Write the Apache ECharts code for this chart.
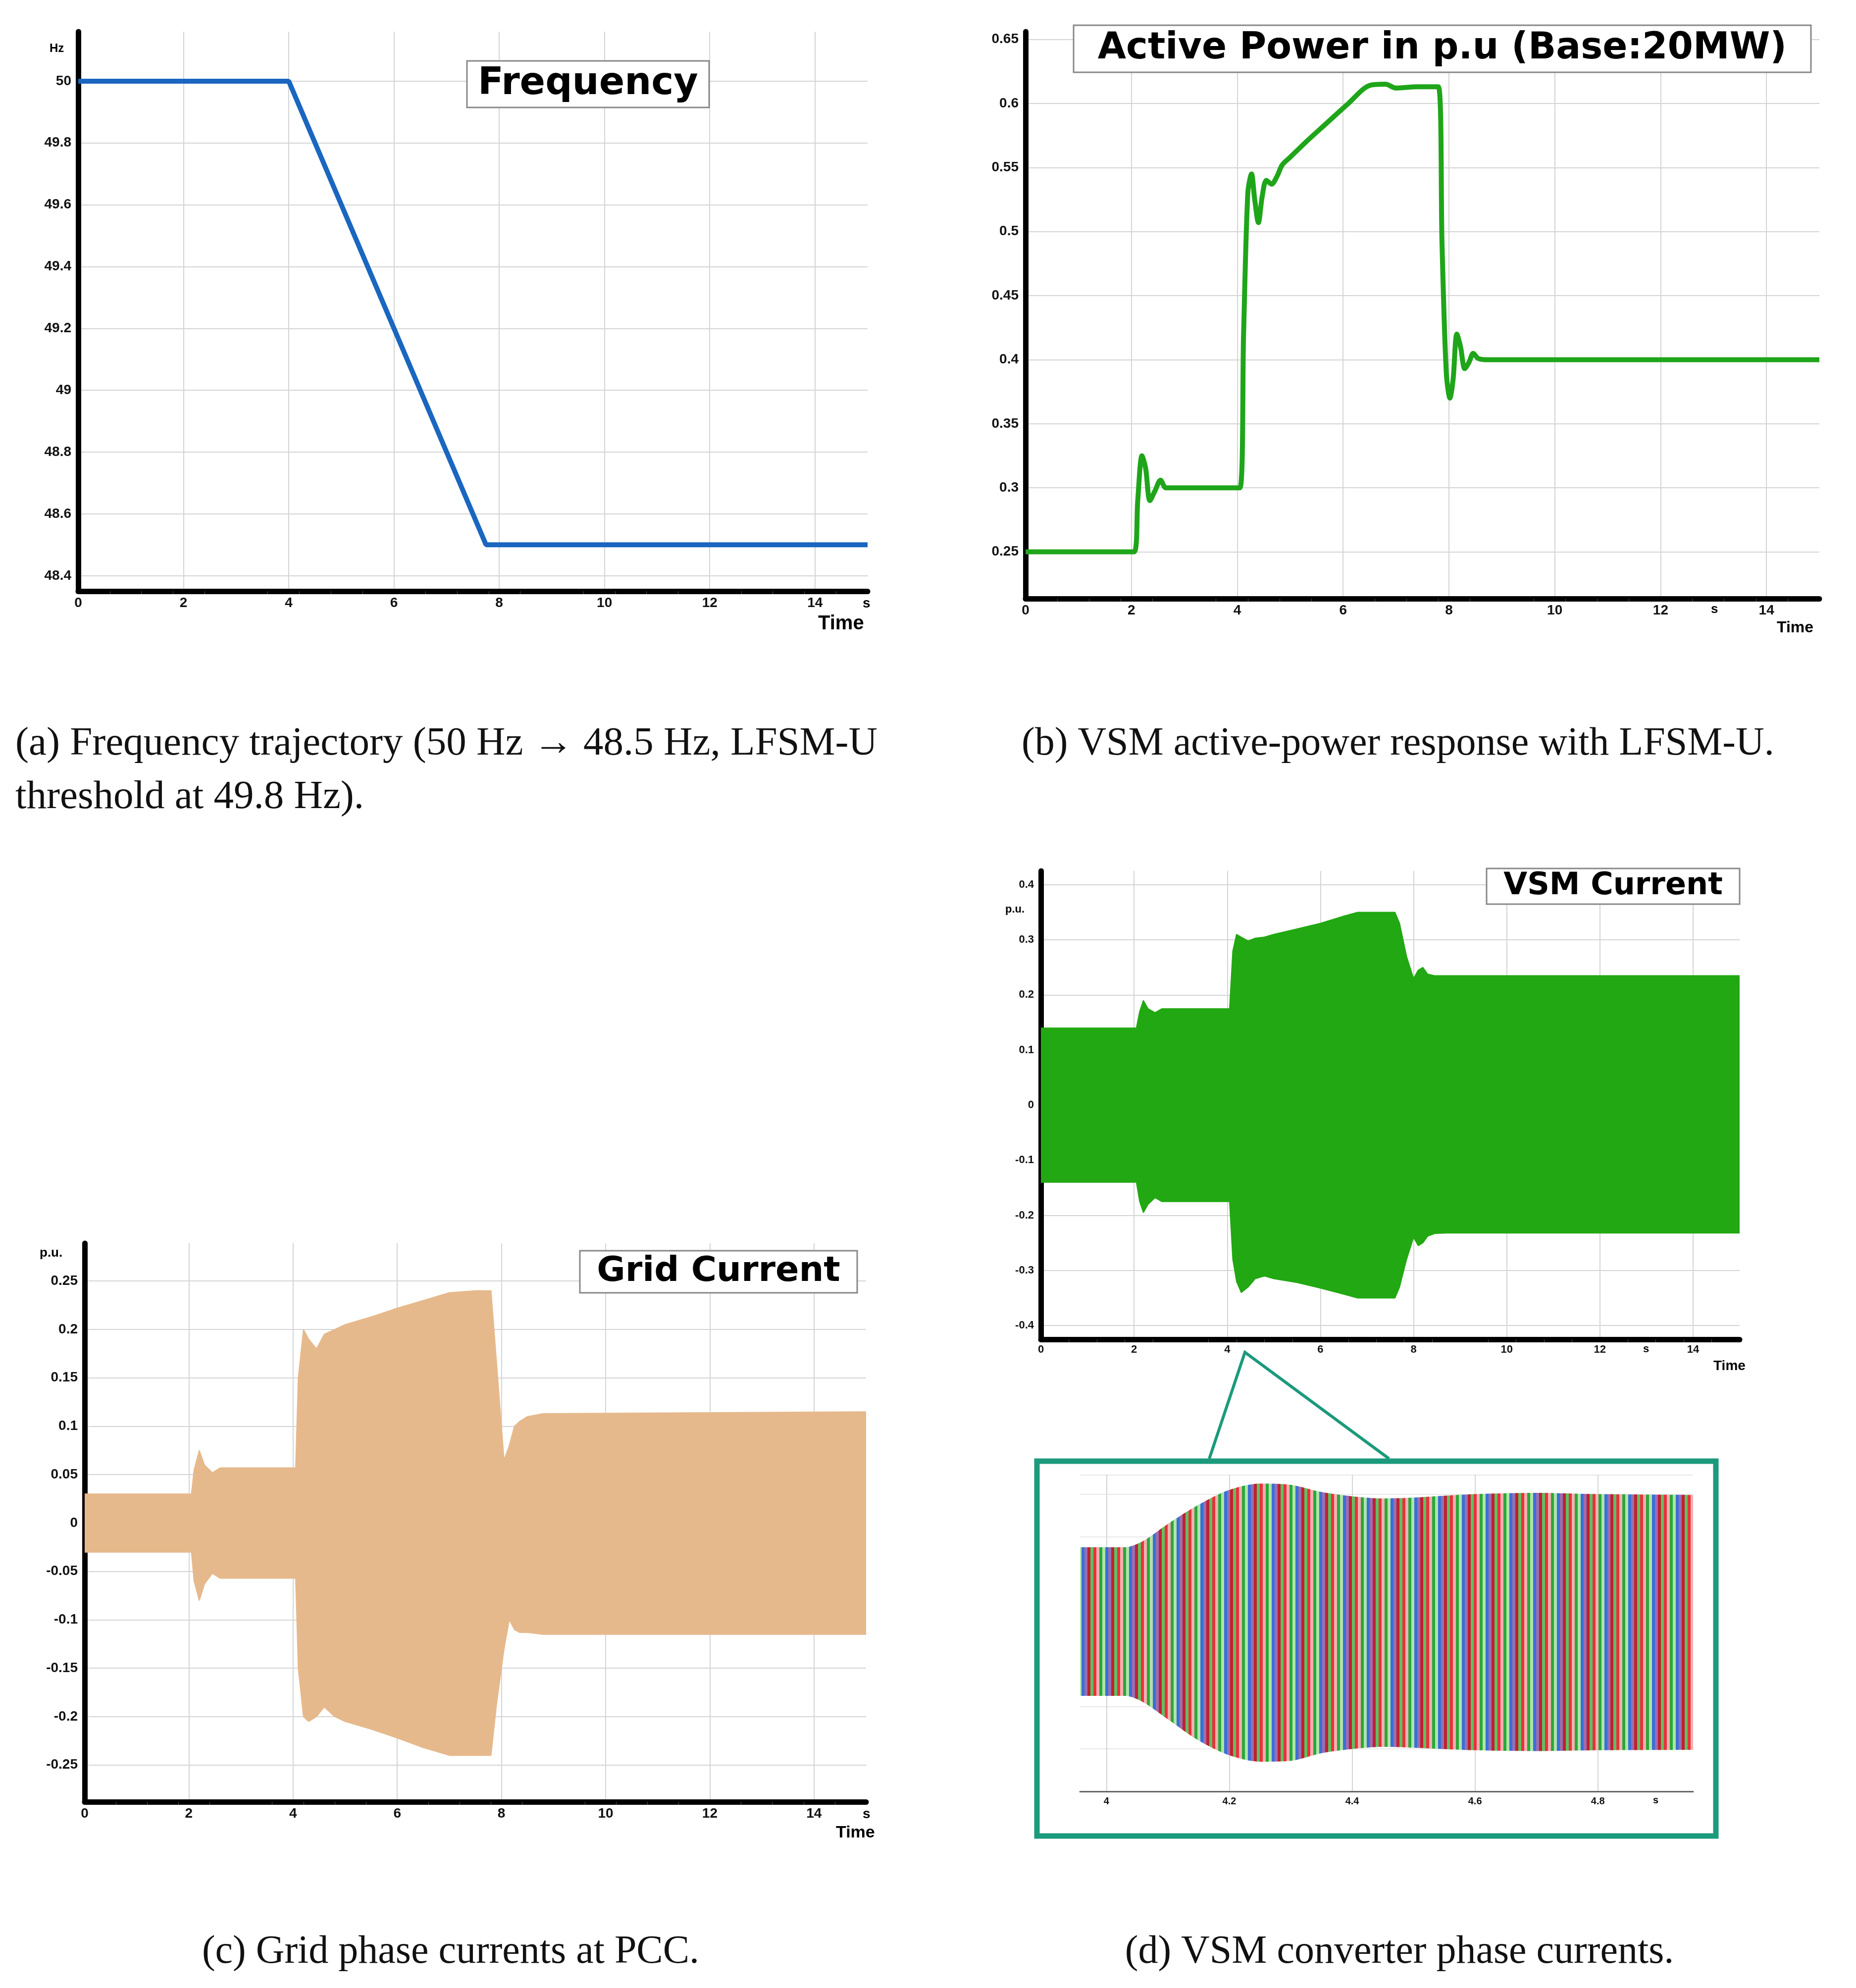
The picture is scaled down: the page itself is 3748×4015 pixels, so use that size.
<!DOCTYPE html>
<html><head><meta charset="utf-8">
<script src="https://cdn.jsdelivr.net/npm/echarts@6/dist/echarts.min.js"></script>
<style>html,body{margin:0;padding:0;background:#fff}#c{width:3748px;height:4015px}</style>
</head><body><div id="c"></div>
<script>
// ---- data ----
const freqT = [0, 4, 7.75, 15];
const freqV = [50, 50, 48.5, 48.5];
const freqTicks = [48.4, 48.6, 48.8, 49, 49.2, 49.4, 49.6, 49.8, 50];

const powT = [0,2.05,2.12,2.2,2.27,2.35,2.45,2.55,2.65,2.8,3.0,4.05,4.12,4.2,4.27,4.33,4.4,4.47,4.55,4.65,4.75,4.85,5.0,5.3,5.7,6.1,6.5,6.8,7.0,7.4,7.8,7.87,7.95,8.02,8.08,8.15,8.22,8.3,8.38,8.46,8.55,8.7,8.9,9.2,15];
const powV = [0.25,0.25,0.29,0.325,0.315,0.29,0.298,0.306,0.3,0.3,0.3,0.3,0.42,0.53,0.545,0.525,0.507,0.527,0.54,0.537,0.543,0.552,0.558,0.57,0.585,0.6,0.614,0.615,0.612,0.613,0.613,0.49,0.39,0.37,0.385,0.42,0.41,0.393,0.398,0.405,0.401,0.4,0.4,0.4,0.4];
const powTicks = [0.25,0.3,0.35,0.4,0.45,0.5,0.55,0.6,0.65];

const gridT = [0,2.05,2.1,2.2,2.3,2.45,2.6,2.8,4.05,4.1,4.2,4.3,4.45,4.6,4.8,5.0,5.5,6.0,6.5,7.0,7.5,7.8,7.9,8.05,8.15,8.25,8.35,8.5,8.8,15];
const gridUp = [0.03,0.03,0.055,0.075,0.06,0.052,0.057,0.057,0.057,0.15,0.2,0.19,0.18,0.195,0.2,0.205,0.213,0.222,0.23,0.238,0.24,0.24,0.17,0.065,0.08,0.1,0.105,0.11,0.113,0.115];
const gridLo = [-0.03,-0.03,-0.06,-0.08,-0.063,-0.052,-0.057,-0.057,-0.057,-0.15,-0.2,-0.205,-0.2,-0.19,-0.2,-0.205,-0.213,-0.222,-0.232,-0.24,-0.24,-0.24,-0.19,-0.13,-0.1,-0.11,-0.113,-0.113,-0.115,-0.115];
const gridTicks = [-0.25,-0.2,-0.15,-0.1,-0.05,0,0.05,0.1,0.15,0.2,0.25];

const vsmT = [0,2.05,2.12,2.2,2.3,2.45,2.6,2.8,4.05,4.12,4.2,4.3,4.45,4.6,4.8,5.0,5.5,6.0,6.5,6.8,7.3,7.6,7.7,7.85,8.0,8.1,8.2,8.3,8.45,8.7,15];
const vsmUp = [0.14,0.14,0.17,0.19,0.175,0.168,0.175,0.175,0.175,0.28,0.31,0.305,0.298,0.303,0.305,0.31,0.32,0.33,0.343,0.35,0.35,0.35,0.33,0.27,0.23,0.245,0.25,0.238,0.235,0.235,0.235];
const vsmLo = [-0.14,-0.14,-0.175,-0.195,-0.18,-0.168,-0.175,-0.175,-0.175,-0.28,-0.32,-0.34,-0.33,-0.315,-0.31,-0.315,-0.322,-0.332,-0.343,-0.35,-0.35,-0.35,-0.33,-0.28,-0.24,-0.255,-0.25,-0.238,-0.233,-0.232,-0.232];
const vsmTicks = [-0.4,-0.3,-0.2,-0.1,0,0.1,0.2,0.3,0.4];

const insT = [3.957,4.03,4.06,4.1,4.15,4.2,4.25,4.3,4.35,4.4,4.45,4.5,4.6,4.7,4.8,4.955];
const insUp = [0.175,0.175,0.19,0.23,0.275,0.31,0.325,0.322,0.305,0.295,0.29,0.292,0.3,0.303,0.3,0.298];
const insLo = [-0.175,-0.175,-0.19,-0.23,-0.28,-0.315,-0.33,-0.328,-0.31,-0.3,-0.295,-0.297,-0.303,-0.305,-0.303,-0.302];
const insTicks = [4, 4.2, 4.4, 4.6, 4.8];

const xTicks = [0,2,4,6,8,10,12,14];
// ---- helpers ----
const pair = (t, v) => t.map((x, i) => [x, v[i]]);
const fmt = v => String(+v.toFixed(3));
const AX = '#000';
function xAxis(gi, fs, min, max, custom) {
  return {gridIndex: gi, type: 'value', min: min, max: max,
    axisLine: {onZero: false, lineStyle: {color: gi === 4 ? '#666' : AX, width: gi === 4 ? 3 : 11, cap: 'round'}},
    axisTick: {show: false, customValues: custom},
    minorTick: {show: gi !== 4, lineStyle: {color: '#555', width: 1}, length: 6},
    axisLabel: {customValues: custom, formatter: fmt, fontSize: fs, fontWeight: 'bold', color: '#111', margin: 10, fontFamily: 'Liberation Sans'},
    splitLine: {show: true, lineStyle: {color: '#d4d4d4', width: 2}}};
}
function yAxis(gi, fs, min, max, custom, show) {
  return {gridIndex: gi, type: 'value', min: min, max: max,
    axisLine: {show: show, onZero: false, lineStyle: {color: AX, width: 11, cap: 'round'}},
    axisTick: {show: false, customValues: custom},
    axisLabel: {show: show, customValues: custom, formatter: fmt, fontSize: fs, fontWeight: 'bold', color: '#111', margin: 14, fontFamily: 'Liberation Sans'},
    splitLine: {show: true, lineStyle: {color: '#d4d4d4', width: 2}}};
}
// stripe pattern for inset
const pat = document.createElement('canvas');
pat.width = 48; pat.height = 4;
const pc = pat.getContext('2d');
const cols = ['#e8323c', '#f4b0b0', '#2aa83a', '#b0e4a8', '#3a6fd8', '#9a6fb0', '#c02030', '#60c060'];
cols.forEach((c, i) => { pc.fillStyle = c; pc.fillRect(i * 6, 0, 6, 4); });

function env(gi, t, v, color) {
  return {type: 'line', xAxisIndex: gi, yAxisIndex: gi, data: pair(t, v), symbol: 'none',
    lineStyle: {color: color, width: 2}, areaStyle: {color: color, opacity: 1}};
}
function tb(x, y, w, h, text, fs) {
  return [{type: 'rect', shape: {x: x, y: y, width: w, height: h}, style: {fill: '#fff', stroke: '#888', lineWidth: 3}, z: 10},
    {type: 'text', x: x + w / 2, y: y + h / 2, style: {text: text, fontSize: fs, fontWeight: 'bold', fontFamily: 'DejaVu Sans', fill: '#000', align: 'center', verticalAlign: 'middle'}, z: 11}];
}
function tx(x, y, text, fs, o) {
  return Object.assign({type: 'text', x: x, y: y, style: Object.assign({text: text, fontSize: fs, fill: '#000', fontFamily: 'Liberation Sans', fontWeight: 'bold'}, o || {}), z: 12});
}
const cap = {fontFamily: 'Liberation Serif', fontWeight: 'normal', fill: '#111'};
const teal = '#1b9a7c';

const chart = echarts.init(document.getElementById('c'), null, {renderer: 'canvas'});
chart.setOption({
  animation: false,
  grid: [
    {left: 158, top: 64, width: 1594, height: 1130},
    {left: 2071, top: 64, width: 1603, height: 1145},
    {left: 171, top: 2511, width: 1578, height: 1128},
    {left: 2102, top: 1759, width: 1411, height: 946},
    {left: 2181, top: 2979, width: 1238, height: 639}
  ],
  xAxis: [
    xAxis(0, 28, 0, 15, xTicks), xAxis(1, 28, 0, 15, xTicks), xAxis(2, 28, 0, 15, xTicks),
    xAxis(3, 22, 0, 15, xTicks), xAxis(4, 20, 3.957, 4.955, insTicks)
  ],
  yAxis: [
    yAxis(0, 28, 48.35, 50.16, freqTicks, true), yAxis(1, 28, 0.2135, 0.656, powTicks, true),
    yAxis(2, 28, -0.288, 0.289, gridTicks, true), yAxis(3, 22, -0.425, 0.425, vsmTicks, true),
    {gridIndex: 4, type: 'value', min: -0.4, max: 0.345, axisLine: {show: false}, axisLabel: {show: false}, axisTick: {show: false},
      splitLine: {show: true, lineStyle: {color: '#e8e8e8', width: 2}}}
  ],
  series: [
    {type: 'line', xAxisIndex: 0, yAxisIndex: 0, data: pair(freqT, freqV), symbol: 'none', lineStyle: {color: '#1a66c0', width: 10}},
    {type: 'line', xAxisIndex: 1, yAxisIndex: 1, data: pair(powT, powV), symbol: 'none', smooth: 0.3, lineStyle: {color: '#1fa51a', width: 10}},
    env(2, gridT, gridUp, '#e6b98c'), env(2, gridT, gridLo, '#e6b98c'),
    env(3, vsmT, vsmUp, '#22a812'), env(3, vsmT, vsmLo, '#22a812'),
    {type: 'line', xAxisIndex: 4, yAxisIndex: 4, data: pair(insT, insUp), symbol: 'none', smooth: 0.3, lineStyle: {width: 0}, areaStyle: {color: {image: pat, repeat: 'repeat'}, opacity: 1}},
    {type: 'line', xAxisIndex: 4, yAxisIndex: 4, data: pair(insT, insLo), symbol: 'none', smooth: 0.3, lineStyle: {width: 0}, areaStyle: {color: {image: pat, repeat: 'repeat'}, opacity: 1}}
  ],
  graphic: [].concat(
    tb(943, 123, 489, 94, 'Frequency', 76),
    tb(2168, 51, 1489, 95, 'Active Power in p.u (Base:20MW)', 74),
    tb(1171, 2526, 560, 85, 'Grid Current', 70),
    tb(3002, 1754, 511, 72, 'VSM Current', 62),
    [
      tx(100, 86, 'Hz', 24), tx(1742, 1205, 's', 28), tx(1652, 1240, 'Time', 40),
      tx(3455, 1218, 's', 26), tx(3588, 1252, 'Time', 32),
      tx(80, 2518, 'p.u.', 26), tx(1742, 3650, 's', 28), tx(1688, 3685, 'Time', 34),
      tx(2030, 1826, 'p.u.', 22), tx(3318, 2714, 's', 22), tx(3460, 2745, 'Time', 28),
      tx(3338, 3626, 's', 20),
      {type: 'rect', shape: {x: 2094, y: 2951, width: 1371, height: 757}, style: {fill: 'none', stroke: teal, lineWidth: 11}, z: 20},
      {type: 'polyline', shape: {points: [[2442, 2946], [2514, 2731], [2805, 2946]]}, style: {fill: 'none', stroke: teal, lineWidth: 6}, z: 20},
      tx(31, 1503, '(a) Frequency trajectory (50 Hz → 48.5 Hz, LFSM-U', 81, Object.assign({verticalAlign: 'middle'}, cap)),
      tx(31, 1611, 'threshold at 49.8 Hz).', 81, Object.assign({verticalAlign: 'middle'}, cap)),
      tx(2063, 1503, '(b) VSM active-power response with LFSM-U.', 80, Object.assign({verticalAlign: 'middle'}, cap)),
      tx(910, 3943, '(c) Grid phase currents at PCC.', 80, Object.assign({verticalAlign: 'middle', align: 'center'}, cap)),
      tx(2826, 3943, '(d) VSM converter phase currents.', 80, Object.assign({verticalAlign: 'middle', align: 'center'}, cap))
    ]
  )
});
</script></body></html>
